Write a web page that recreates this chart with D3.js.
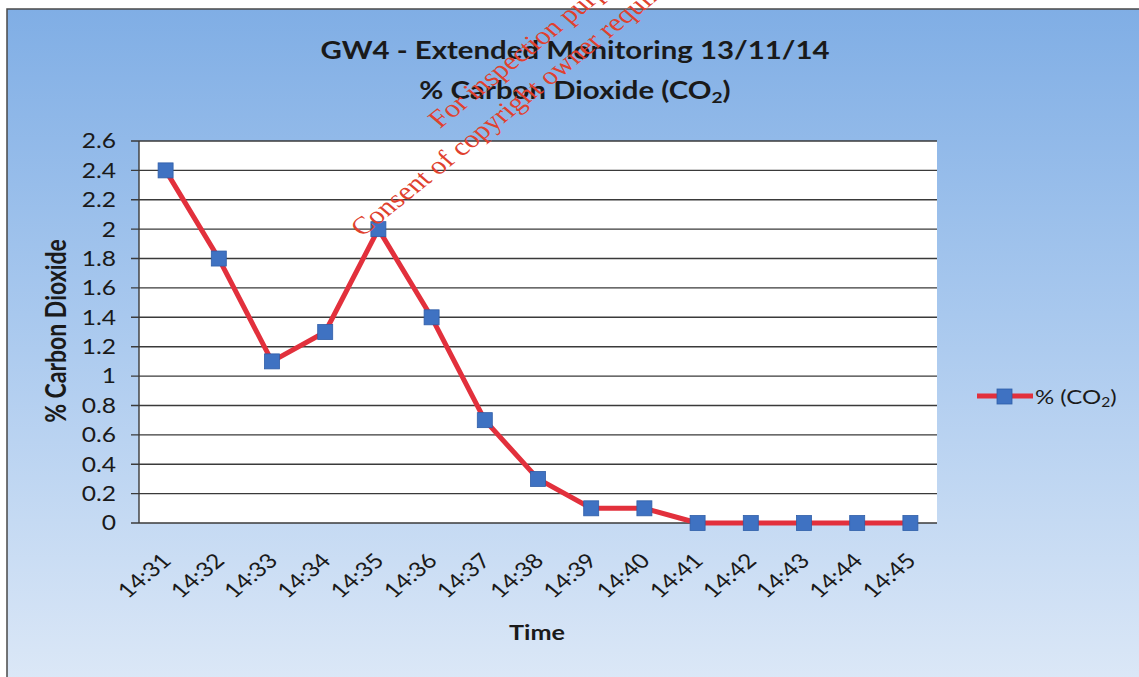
<!DOCTYPE html>
<html>
<head>
<meta charset="utf-8">
<script src="https://cdn.jsdelivr.net/npm/d3@7"></script>
<style>
  html, body { margin: 0; padding: 0; background: #fff; }
  svg { display: block; font-family: Lato, "Open Sans", sans-serif; }
</style>
</head>
<body>
<svg width="1139" height="677"></svg>
<script>
// chart data
var times = ["14:31","14:32","14:33","14:34","14:35","14:36","14:37","14:38",
             "14:39","14:40","14:41","14:42","14:43","14:44","14:45"];
var co2 = [2.4, 1.8, 1.1, 1.3, 2.0, 1.4, 0.7, 0.3, 0.1, 0.1, 0, 0, 0, 0, 0];
var yTicks = [0, 0.2, 0.4, 0.6, 0.8, 1, 1.2, 1.4, 1.6, 1.8, 2, 2.2, 2.4, 2.6];

var svg = d3.select("svg"),
    W = +svg.attr("width"),
    H = +svg.attr("height");

var plot = {left: 139, right: 937, top: 141, bottom: 523};
var sx = 1.2; // the scan is a little wide, so text is stretched to match

function place(px, py, rot) {
    return "translate(" + px + "," + py + ") scale(" + sx + ",1)" + (rot ? " rotate(" + rot + ")" : "");
}

// background gradient
var defs = svg.append("defs");
var grad = defs.append("linearGradient").attr("id", "bg")
    .attr("x1", 0).attr("y1", 0).attr("x2", 0).attr("y2", 1);
grad.append("stop").attr("offset", "0%").attr("stop-color", "#80aee5");
grad.append("stop").attr("offset", "45%").attr("stop-color", "#a8c8ee");
grad.append("stop").attr("offset", "100%").attr("stop-color", "#dce8f7");

svg.append("rect").attr("x", 7).attr("y", 9).attr("width", W).attr("height", H)
    .attr("fill", "url(#bg)")
    .attr("stroke", "#4a4a4a").attr("stroke-width", 1.5);

// plot area
svg.append("rect")
    .attr("x", plot.left).attr("y", plot.top)
    .attr("width", plot.right - plot.left).attr("height", plot.bottom - plot.top)
    .attr("fill", "#fff");

var x = d3.scaleBand().domain(times).range([plot.left, plot.right]).padding(0);
var y = d3.scaleLinear().domain([0, 2.6]).range([plot.bottom, plot.top]);

// gridlines + y ticks
svg.append("g").selectAll("line").data(yTicks).enter().append("line")
    .attr("x1", plot.left - 8).attr("x2", plot.right)
    .attr("y1", function(d) { return y(d); }).attr("y2", function(d) { return y(d); })
    .attr("stroke", "#3a3a3a").attr("stroke-width", 1.4);

svg.append("line")
    .attr("x1", plot.left).attr("x2", plot.left)
    .attr("y1", plot.top).attr("y2", plot.bottom)
    .attr("stroke", "#3a3a3a").attr("stroke-width", 1.4);

svg.append("g").selectAll("text").data(yTicks).enter().append("text")
    .attr("transform", function(d) { return place(116, y(d)); })
    .attr("dy", "0.36em")
    .attr("text-anchor", "end")
    .attr("font-size", 20.5).attr("fill", "#1a1a1a")
    .text(function(d) { return d; });

// x tick labels, rotated
svg.append("g").selectAll("text").data(times).enter().append("text")
    .attr("transform", function(d) {
        return place(x(d) + x.bandwidth() / 2 + 7, 562, -45);
    })
    .attr("text-anchor", "end")
    .attr("font-size", 20.5).attr("fill", "#1a1a1a")
    .text(function(d) { return d; });

// axis titles
svg.append("text")
    .attr("transform", place(66, 331, -90))
    .attr("text-anchor", "middle")
    .attr("font-size", 23).attr("font-weight", "bold").attr("fill", "#1a1a1a")
    .text("% Carbon Dioxide");

svg.append("text")
    .attr("transform", place(537, 640))
    .attr("text-anchor", "middle")
    .attr("font-size", 21).attr("font-weight", "bold").attr("fill", "#1a1a1a")
    .text("Time");

// title
svg.append("text")
    .attr("transform", place(575, 59))
    .attr("text-anchor", "middle")
    .attr("font-size", 24.5).attr("font-weight", "bold").attr("fill", "#1a1a1a")
    .text("GW4 - Extended Monitoring 13/11/14");

var t2 = svg.append("text")
    .attr("transform", place(575, 99))
    .attr("text-anchor", "middle")
    .attr("font-size", 24.5).attr("font-weight", "bold").attr("fill", "#1a1a1a");
t2.append("tspan").text("% Carbon Dioxide (CO");
t2.append("tspan").attr("font-size", 16).attr("dy", 4).text("2");
t2.append("tspan").attr("dy", -4).text(")");

// series line
var line = d3.line()
    .x(function(d, i) { return x(times[i]) + x.bandwidth() / 2; })
    .y(function(d) { return y(d); });

svg.append("path").datum(co2)
    .attr("d", line)
    .attr("fill", "none")
    .attr("stroke", "#e2303c").attr("stroke-width", 5)
    .attr("stroke-linejoin", "round");

svg.append("g").selectAll("rect").data(co2).enter().append("rect")
    .attr("x", function(d, i) { return x(times[i]) + x.bandwidth() / 2 - 7.5; })
    .attr("y", function(d) { return y(d) - 7.5; })
    .attr("width", 15).attr("height", 15)
    .attr("fill", "#3f72c2").attr("stroke", "#2f5ea8").attr("stroke-width", 0.8);

// legend
var lg = svg.append("g").attr("transform", "translate(977,396)");
lg.append("line").attr("x1", 0).attr("x2", 56).attr("y1", 0).attr("y2", 0)
    .attr("stroke", "#e2303c").attr("stroke-width", 5);
lg.append("rect").attr("x", 20).attr("y", -7).attr("width", 15).attr("height", 15)
    .attr("fill", "#3f72c2").attr("stroke", "#2f5ea8").attr("stroke-width", 0.8);
var lt = lg.append("text").attr("transform", place(58, 8))
    .attr("font-size", 20).attr("fill", "#1a1a1a");
lt.append("tspan").text("% (CO");
lt.append("tspan").attr("font-size", 13).attr("dy", 3).text("2");
lt.append("tspan").attr("dy", -3).text(")");

// watermark
var wm = svg.append("g")
    .attr("transform", place(440, 129, -44))
    .attr("font-family", "'Liberation Serif', 'DejaVu Serif', serif")
    .attr("font-size", 25).attr("fill", "#e0412e");
wm.append("text").attr("x", 0).attr("y", 0).text("For inspection purposes only.");
wm.append("text").attr("x", -122).attr("y", 33).text("Consent of copyright owner required for any other use.");
</script>
</body>
</html>
